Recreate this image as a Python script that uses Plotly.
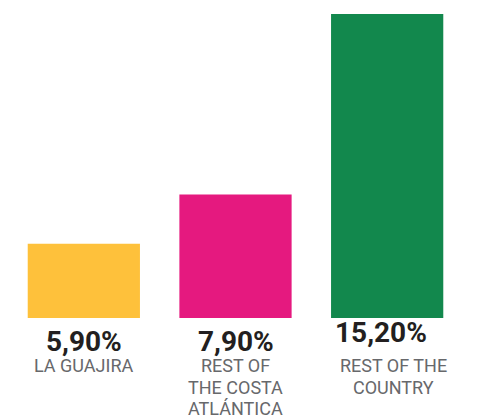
import plotly.graph_objects as go

# Unemployment rate by region
categories = ["LA GUAJIRA", "REST OF THE COSTA ATLÁNTICA", "REST OF THE COUNTRY"]
values = [5.90, 7.90, 15.20]
value_labels = ["5,90%", "7,90%", "15,20%"]
category_lines = [["LA GUAJIRA"], ["REST OF", "THE COSTA", "ATLÁNTICA"], ["REST OF THE", "COUNTRY"]]
colors = ["#FEC13B", "#E5197F", "#12884D"]

fig = go.Figure(
    go.Bar(
        x=categories,
        y=values,
        marker=dict(color=colors, line=dict(width=0)),
        hoverinfo="skip",
    )
)

# label offsets in pixels relative to the bar base
value_offsets = [(0, -23), (0, -23), (-6, -14)]
cat_offsets = [(0, -35), (0, -35), (6, -35)]
line_step = 21.6

for cat, vlab, lines, (vx, vy), (cx, cy) in zip(
    categories, value_labels, category_lines, value_offsets, cat_offsets
):
    fig.add_annotation(
        x=cat, y=0, xref="x", yref="paper",
        text=f"<b>{vlab}</b>", showarrow=False,
        xanchor="center", yanchor="middle",
        xshift=vx, yshift=vy,
        font=dict(family="Roboto", size=28, color="#231F20"),
    )
    for i, line in enumerate(lines):
        fig.add_annotation(
            x=cat, y=0, xref="x", yref="paper",
            text=line, showarrow=False,
            xanchor="center", yanchor="top",
            xshift=cx, yshift=cy - i * line_step,
            font=dict(family="Roboto", size=18, color="#67686B"),
        )

fig.update_layout(
    width=484,
    height=417,
    margin=dict(l=8, r=21, t=14, b=99),
    paper_bgcolor="white",
    plot_bgcolor="white",
    bargap=0.26,
    showlegend=False,
    xaxis=dict(visible=False),
    yaxis=dict(visible=False, range=[2.9, 15.2]),
)

fig.write_html("out.html")
